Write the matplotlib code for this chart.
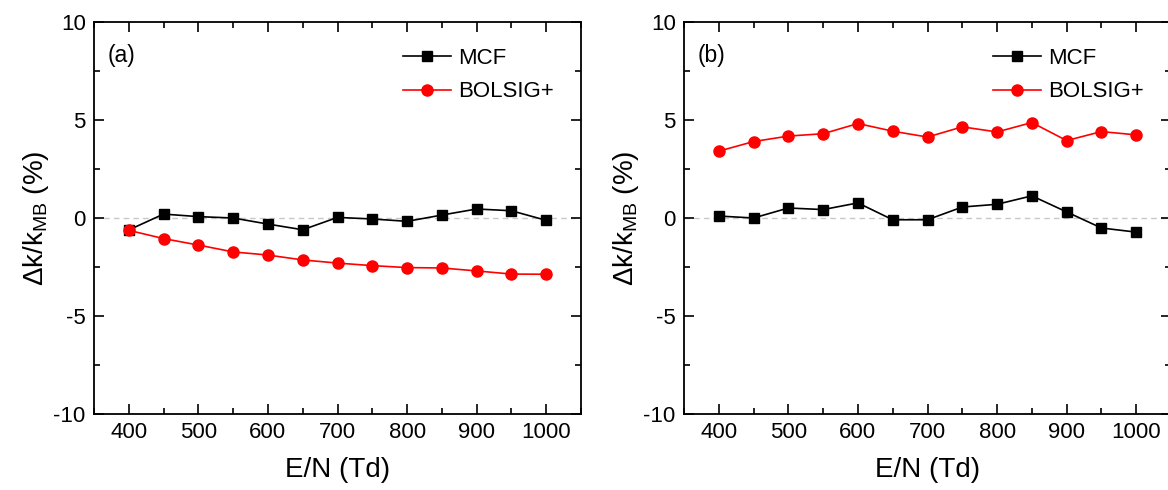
import numpy as np
import matplotlib
matplotlib.use("Agg")
import matplotlib.pyplot as plt
from matplotlib.ticker import MultipleLocator

plt.rcParams['font.family'] = ['Liberation Sans', 'DejaVu Sans']
plt.rcParams['mathtext.fontset'] = 'custom'
plt.rcParams['mathtext.rm'] = 'Liberation Sans'
plt.rcParams['mathtext.it'] = 'Liberation Sans:italic'
plt.rcParams['axes.unicode_minus'] = False

# E/N (Td)
en = [400, 450, 500, 550, 600, 650, 700, 750, 800, 850, 900, 950, 1000]

# panel (a)
mcf_a = [-0.61, 0.20, 0.07, 0.00, -0.31, -0.60, 0.03, -0.05, -0.17, 0.15, 0.46, 0.37, -0.12]
bol_a = [-0.63, -1.05, -1.38, -1.73, -1.89, -2.14, -2.30, -2.43, -2.53, -2.55, -2.70, -2.86, -2.87]

# panel (b)
mcf_b = [0.10, 0.00, 0.51, 0.43, 0.77, -0.09, -0.09, 0.56, 0.70, 1.13, 0.31, -0.51, -0.72]
bol_b = [3.41, 3.90, 4.18, 4.30, 4.82, 4.43, 4.13, 4.65, 4.39, 4.87, 3.95, 4.41, 4.24]

panels = [("(a)", mcf_a, bol_a), ("(b)", mcf_b, bol_b)]

fig = plt.figure(figsize=(11.68, 4.9), dpi=100)
W, H = 1168, 490
lefts = [94, 684]
for (tag, mcf, bol), left in zip(panels, lefts):
    ax = fig.add_axes([left / W, (H - 414) / H, 487 / W, 392 / H])
    ax.axhline(0, color="#c8c8c8", lw=1, ls=(0, (4, 3)), zorder=0)
    ax.plot(en, mcf, color="black", lw=1.2, marker="s", ms=7, label="MCF")
    ax.plot(en, bol, color="red", lw=1.2, marker="o", ms=8, label="BOLSIG+")
    ax.set_xlim(350, 1050)
    ax.set_ylim(-10, 10)
    ax.xaxis.set_major_locator(MultipleLocator(100))
    ax.xaxis.set_minor_locator(MultipleLocator(50))
    ax.yaxis.set_major_locator(MultipleLocator(5))
    ax.yaxis.set_minor_locator(MultipleLocator(2.5))
    ax.tick_params(which="both", direction="in", top=True, right=True, labelsize=16, width=1.2)
    ax.tick_params(which="major", length=7, pad=6)
    ax.tick_params(which="minor", length=4)
    for s in ax.spines.values():
        s.set_linewidth(1.3)
    ax.set_xlabel("E/N (Td)", fontsize=20, labelpad=10)
    ax.set_ylabel(r"$\Delta$k/k$_{\mathrm{MB}}$ (%)", fontsize=20, labelpad=2)
    ax.text(0.028, 0.915, tag, transform=ax.transAxes, fontsize=16.5, va="center")
    ax.legend(loc="upper right", frameon=False, fontsize=16, handlelength=2.2,
              handletextpad=0.3, labelspacing=0.55, borderaxespad=0.6,
              bbox_to_anchor=(0.99, 0.99))

fig.savefig("out.png", dpi=100)
